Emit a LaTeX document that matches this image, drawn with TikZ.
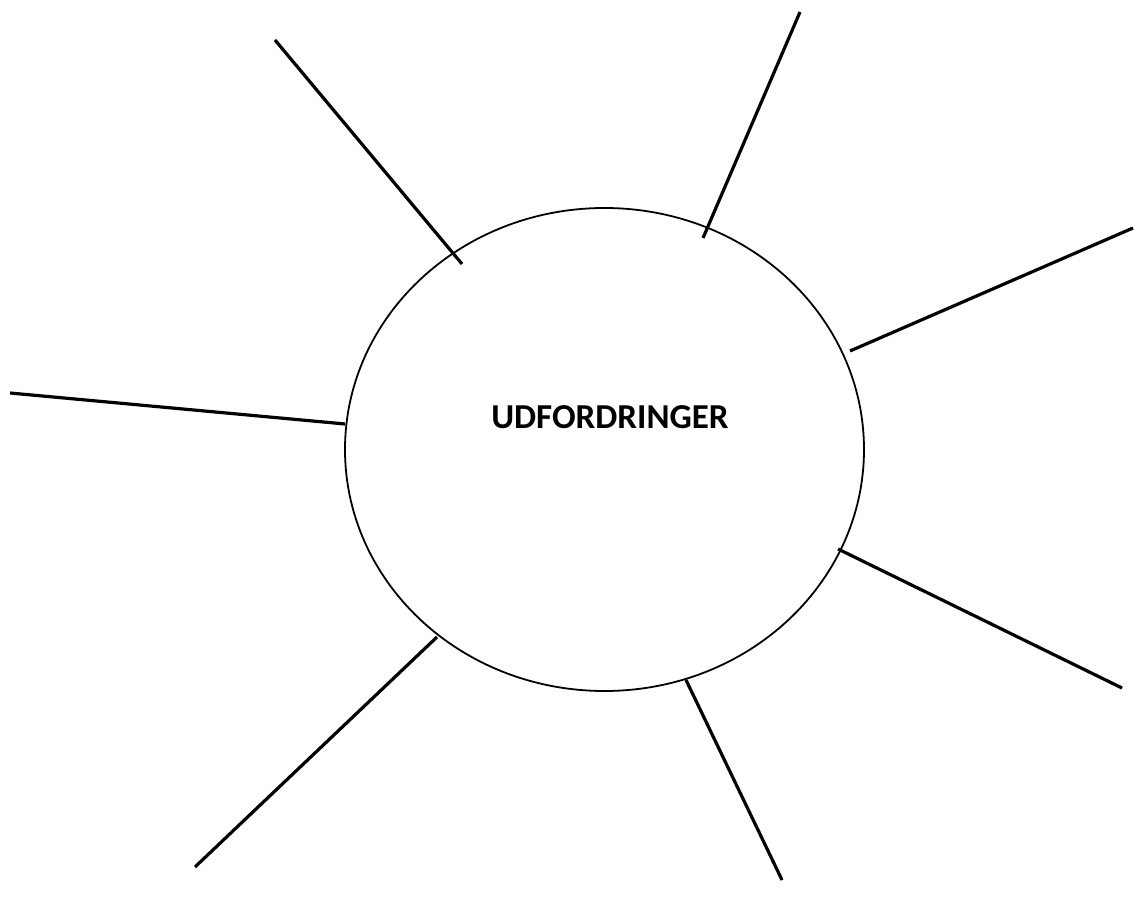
\documentclass[tikz,border=0pt]{standalone}
\usepackage{fontspec}
\setmainfont{Carlito}
\usetikzlibrary{shapes.geometric}
\begin{document}
\begin{tikzpicture}[x=1pt,y=-1pt,
  ray/.style={line width=3.2pt},
  ring/.style={draw,ellipse,line width=1.8pt,minimum width=519pt,minimum height=483pt,inner sep=0pt},
  label/.style={font=\bfseries\fontsize{35}{40}\selectfont}]
\useasboundingbox (0,0) rectangle (1141,909);
\node[ring] (c) at (604.5,449.5) {};
\node[label] (t) at (610,417) {UDFORDRINGER};
\coordinate (a1) at (275,40);   \coordinate (b1) at (462,264);
\coordinate (a2) at (800,12);   \coordinate (b2) at (703,238);
\coordinate (a3) at (1133,228); \coordinate (b3) at (850,351);
\coordinate (a4) at (10,393);   \coordinate (b4) at (345,424);
\coordinate (a5) at (1122,688); \coordinate (b5) at (838,549);
\coordinate (a6) at (782,880);  \coordinate (b6) at (686,680);
\coordinate (a7) at (195,867);  \coordinate (b7) at (437,637);
\foreach \i in {1,...,7} \draw[ray] (a\i) -- (b\i);
\end{tikzpicture}
\end{document}
